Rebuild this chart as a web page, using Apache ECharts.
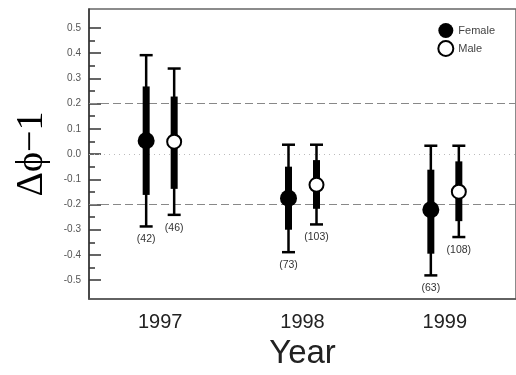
<!DOCTYPE html>
<html>
<head>
<meta charset="utf-8">
<script src="https://cdn.jsdelivr.net/npm/echarts@6/dist/echarts.min.js"></script>
<style>
html,body{margin:0;padding:0;background:#fff;}
#chart{width:516px;height:375px;}
</style>
</head>
<body>
<div id="chart"></div>
<script>
// ---- data ----
var years = ['1997', '1998', '1999'];
var femaleMean = [0.053, -0.175, -0.221];
var femaleLo50 = [-0.162, -0.300, -0.395];
var femaleHi50 = [0.268, -0.050, -0.062];
var femaleLo95 = [-0.287, -0.389, -0.481];
var femaleHi95 = [0.392, 0.037, 0.033];
var femaleN = [42, 73, 63];
var maleMean = [0.049, -0.122, -0.149];
var maleLo50 = [-0.138, -0.217, -0.266];
var maleHi50 = [0.228, -0.024, -0.029];
var maleLo95 = [-0.241, -0.279, -0.329];
var maleHi95 = [0.339, 0.037, 0.033];
var maleN = [46, 103, 108];
var yTickValues = [-0.5, -0.4, -0.3, -0.2, -0.1, 0.0, 0.1, 0.2, 0.3, 0.4, 0.5];
var yMinorTickValues = [-0.45, -0.35, -0.25, -0.15, -0.05, 0.05, 0.15, 0.25, 0.35, 0.45];
var dashedRefs = [0.2, -0.2];
var dottedRefs = [0.0];

function buildData(mean, lo50, hi50, lo95, hi95, n) {
  return years.map(function (y, i) {
    return [i, mean[i], lo50[i], hi50[i], lo95[i], hi95[i], n[i]];
  });
}

function makeRender(offset, filled) {
  return function (params, api) {
    var i = api.value(0);
    var pMean = api.coord([i, api.value(1)]);
    var pLo50 = api.coord([i, api.value(2)]);
    var pHi50 = api.coord([i, api.value(3)]);
    var pLo95 = api.coord([i, api.value(4)]);
    var pHi95 = api.coord([i, api.value(5)]);
    var x = pMean[0] + offset;
    var capW = 13, thickW = 7;
    var children = [
      {type: 'line', shape: {x1: x, y1: pHi95[1], x2: x, y2: pLo95[1]}, style: {stroke: '#000', lineWidth: 2.5}},
      {type: 'line', shape: {x1: x - capW / 2, y1: pHi95[1], x2: x + capW / 2, y2: pHi95[1]}, style: {stroke: '#000', lineWidth: 2.5}},
      {type: 'line', shape: {x1: x - capW / 2, y1: pLo95[1], x2: x + capW / 2, y2: pLo95[1]}, style: {stroke: '#000', lineWidth: 2.5}},
      {type: 'rect', shape: {x: x - thickW / 2, y: pHi50[1], width: thickW, height: pLo50[1] - pHi50[1]}, style: {fill: '#000'}},
      filled
        ? {type: 'circle', shape: {cx: x, cy: pMean[1], r: 8.5}, style: {fill: '#000'}}
        : {type: 'circle', shape: {cx: x, cy: pMean[1], r: 7}, style: {fill: '#fff', stroke: '#000', lineWidth: 2}},
      {type: 'text', x: x, y: pLo95[1] + 13, style: {text: '(' + api.value(6) + ')', fontSize: 10.5, fontFamily: 'Liberation Sans, Arial', fill: '#333', align: 'center', verticalAlign: 'middle'}}
    ];
    return {type: 'group', children: children};
  };
}

var chart = echarts.init(document.getElementById('chart'), null, {renderer: 'canvas'});
var option = {
  animation: false,
  backgroundColor: '#fff',
  grid: {left: 89, top: 9, right: -4, bottom: 75, show: true, borderColor: '#666', borderWidth: 1.5, containLabel: false},
  legend: {
    orient: 'vertical', right: 16, top: 18, itemWidth: 15, itemHeight: 15, itemGap: 2,
    textStyle: {fontSize: 11, color: '#444', fontFamily: 'Liberation Sans, Arial'},
    data: [
      {name: 'Female', icon: 'circle', itemStyle: {color: '#000', borderWidth: 0}},
      {name: 'Male', icon: 'circle', itemStyle: {color: '#fff', borderColor: '#000', borderWidth: 2}}
    ]
  },
  xAxis: {
    type: 'category', data: years, boundaryGap: true,
    axisLine: {show: true, onZero: false, lineStyle: {color: '#555', width: 1.5}},
    axisTick: {show: false},
    axisLabel: {fontSize: 20, color: '#222', margin: 13, fontFamily: 'Liberation Sans, Arial'},
    name: 'Year', nameLocation: 'middle', nameGap: 34,
    nameTextStyle: {fontSize: 33, color: '#222', fontFamily: 'Liberation Sans, Arial'},
    splitLine: {show: false}
  },
  yAxis: [{
    type: 'value', min: -0.575, max: 0.575,
    axisLine: {show: true, lineStyle: {color: '#333', width: 1.5}},
    axisTick: {show: true, inside: true, length: 12, customValues: yTickValues, lineStyle: {color: '#333', width: 1.5}},
    axisLabel: {customValues: yTickValues, fontSize: 10, color: '#555', margin: 8, fontFamily: 'Liberation Sans, Arial',
      formatter: function (v) { return (Math.round(v * 10) / 10).toFixed(1); }},
    splitLine: {show: false},
    name: 'Δϕ−1', nameLocation: 'middle', nameGap: 38, nameRotate: 90,
    nameTextStyle: {fontSize: 38, color: '#000', fontFamily: 'Liberation Serif, Times New Roman, serif'}
  }, {
    type: 'value', min: -0.575, max: 0.575, position: 'left', offset: 0,
    axisLine: {show: false},
    axisTick: {show: true, inside: true, length: 6, customValues: yMinorTickValues, lineStyle: {color: '#333', width: 1.5}},
    axisLabel: {show: false},
    splitLine: {show: false}
  }],
  series: [
    {
      name: 'Female', type: 'custom', renderItem: makeRender(-14, true),
      itemStyle: {color: '#000'},
      encode: {x: 0, y: [1, 2, 3, 4, 5]},
      data: buildData(femaleMean, femaleLo50, femaleHi50, femaleLo95, femaleHi95, femaleN),
      z: 5,
      markLine: {
        silent: true, symbol: 'none', label: {show: false},
        data: dashedRefs.map(function (v) { return {yAxis: v, lineStyle: {type: [8, 4], color: '#888', width: 1.2}}; })
          .concat(dottedRefs.map(function (v) { return {yAxis: v, lineStyle: {type: [1, 4], color: '#bbb', width: 1}}; }))
      }
    },
    {
      name: 'Male', type: 'custom', renderItem: makeRender(14, false),
      itemStyle: {color: '#fff', borderColor: '#000', borderWidth: 2},
      encode: {x: 0, y: [1, 2, 3, 4, 5]},
      data: buildData(maleMean, maleLo50, maleHi50, maleLo95, maleHi95, maleN),
      z: 5
    }
  ]
};
chart.setOption(option);
</script>
</body>
</html>
